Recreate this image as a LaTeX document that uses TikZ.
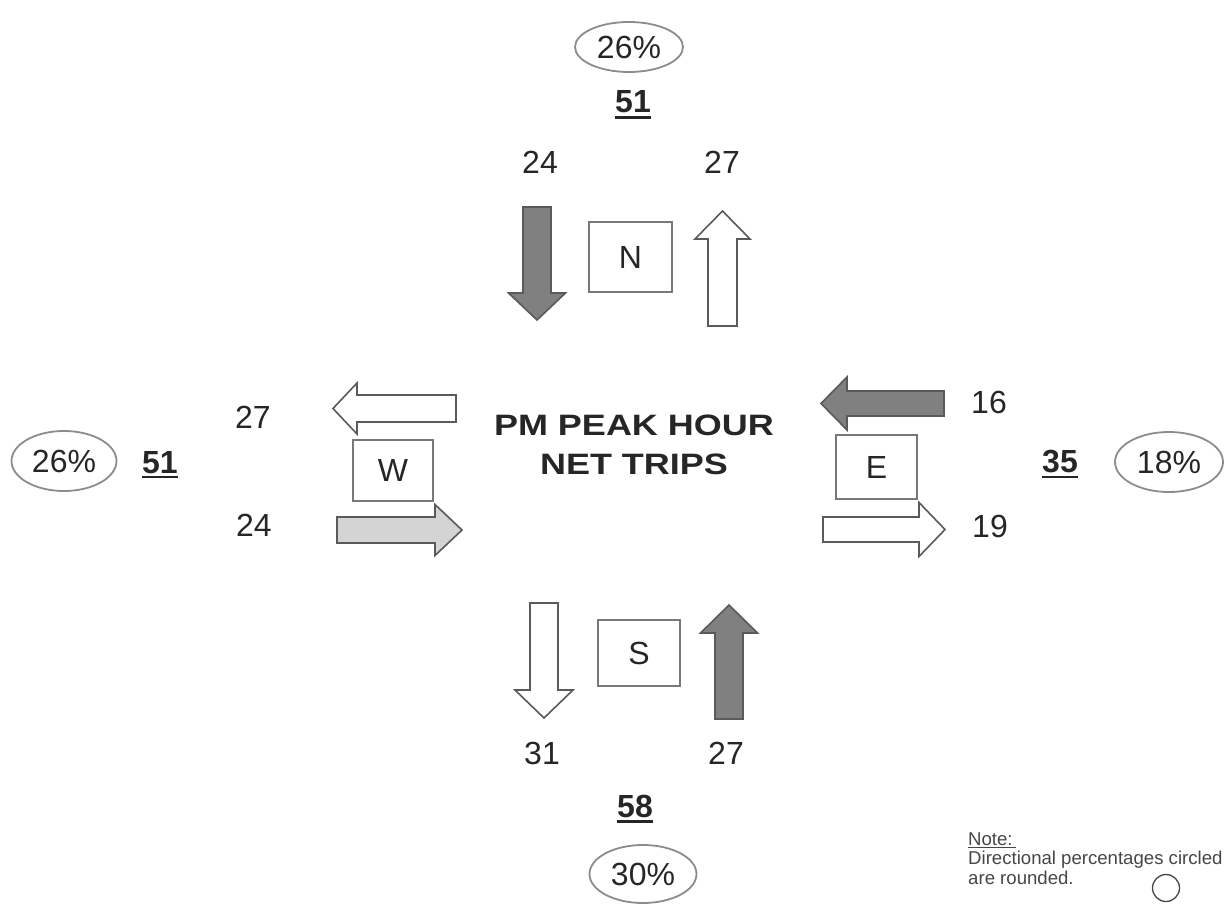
\documentclass[tikz,border=0pt]{standalone}
\usepackage{fontspec}
\setmainfont{Liberation Sans}
\newfontfamily\titlefont{Liberation Sans}[FakeStretch=1.22]
\usetikzlibrary{shapes.geometric}
\definecolor{darkfill}{RGB}{128,128,128}
\definecolor{lightfill}{RGB}{212,212,212}
\definecolor{edgegray}{RGB}{90,90,90}
\definecolor{boxgray}{RGB}{120,120,120}
\definecolor{ovalgray}{RGB}{140,140,140}
\definecolor{ink}{RGB}{38,38,38}
\definecolor{noteink}{RGB}{70,70,70}
\newcommand{\numfont}{\fontsize{32}{38}\selectfont}
\newcommand{\ulnum}[2]{\setbox0\hbox{#2}\rlap{\rule[#1]{\wd0}{2.5pt}}\box0}

\begin{document}
\begin{tikzpicture}[x=1pt,y=-1pt,
num/.style={font=\numfont,text=ink,inner sep=0pt},
total/.style={font=\numfont\bfseries,text=ink,inner sep=0pt,anchor=base},
pct/.style={ellipse,draw=ovalgray,line width=1.8pt,inner sep=0pt,minimum width=106pt,minimum height=56pt,font=\numfont,text=ink},
dirbox/.style={rectangle,draw=boxgray,line width=2pt,inner sep=0pt,font=\numfont,text=ink},
inarr/.style={fill=darkfill,draw=edgegray,line width=1.6pt},
outarr/.style={fill=white,draw=edgegray,line width=1.6pt},
note/.style={font=\fontsize{18.6}{20}\selectfont,text=noteink,inner sep=0pt,anchor=base west},
pics/blockarrow/.style n args={4}{code={
  \path[pic actions] (0,{-#2/2}) -- ({#1-#4},{-#2/2}) -- ({#1-#4},{-#3/2}) -- (#1,0)
    -- ({#1-#4},{#3/2}) -- ({#1-#4},{#2/2}) -- (0,{#2/2}) -- cycle;
}}
]
\useasboundingbox (0,0) rectangle (1225,904);

% north
\node[pct,minimum width=108pt,minimum height=50pt] (pctN) at (629,47) {26\%};
\node[total] (totN) at (633,113) {\ulnum{-6pt}{51}};
\node[num] (inN) at (540,162) {24};
\node[num] (outN) at (722,162) {27};
\pic[inarr,rotate=-90] (arrInN) at (537,207) {blockarrow={113}{28}{57}{27}};
\pic[outarr,rotate=90] (arrOutN) at (722.5,326) {blockarrow={115}{29}{55}{28}};
\node[dirbox,minimum width=83pt,minimum height=70pt] (boxN) at (630.5,257) {N};

% west
\node[pct,minimum width=105pt,minimum height=60pt] (pctW) at (64,461) {26\%};
\node[total] (totW) at (160,473) {\ulnum{-5pt}{51}};
\node[num] (outW) at (253,417) {27};
\node[num] (inW) at (254,525) {24};
\pic[outarr,rotate=180] (arrOutW) at (456,408.5) {blockarrow={123}{27}{51}{24}};
\pic[inarr,fill=lightfill] (arrInW) at (337,530) {blockarrow={125}{26}{51}{27}};
\node[dirbox,minimum width=80pt,minimum height=61pt] (boxW) at (393,470.5) {W};

% east
\node[pct,minimum width=108pt,minimum height=60pt] (pctE) at (1169,462) {18\%};
\node[total] (totE) at (1060,472) {\ulnum{-6pt}{35}};
\node[num] (inE) at (989,402) {16};
\node[num] (outE) at (990,526) {19};
\pic[inarr,rotate=180] (arrInE) at (944,403.5) {blockarrow={123}{25}{53}{26}};
\pic[outarr] (arrOutE) at (823,529.5) {blockarrow={122}{25}{54}{26}};
\node[dirbox,minimum width=81pt,minimum height=64pt] (boxE) at (876.5,467) {E};

% south
\node[num] (outS) at (542,753) {31};
\node[num] (inS) at (726,753) {27};
\pic[outarr,rotate=-90] (arrOutS) at (544,603) {blockarrow={115}{28}{58}{28}};
\pic[inarr,rotate=90] (arrInS) at (729,719) {blockarrow={114}{28}{57}{28}};
\node[dirbox,minimum width=82pt,minimum height=66pt] (boxS) at (639,653) {S};
\node[total] (totS) at (635,817) {\ulnum{-5.5pt}{58}};
\node[pct,minimum width=107pt,minimum height=58pt] (pctS) at (643,874) {30\%};

% title
\node[font=\titlefont\bfseries\fontsize{29.5}{39.5}\selectfont,text=ink,align=center,inner sep=0pt] (title) at (634,445) {PM PEAK HOUR\\NET TRIPS};

% note
\node[note] (noteHead) at (968,845) {\setbox0\hbox{Note:\,}\rlap{\rule[-2.5pt]{\wd0}{1pt}}\box0};
\node[note] (noteLine1) at (968,864) {Directional percentages circled};
\node[note] (noteLine2) at (968,884) {are rounded.};
\node[circle,draw=noteink,line width=1.3pt,minimum size=27pt,inner sep=0pt] (noteMark) at (1166,888) {};
\end{tikzpicture}
\end{document}
